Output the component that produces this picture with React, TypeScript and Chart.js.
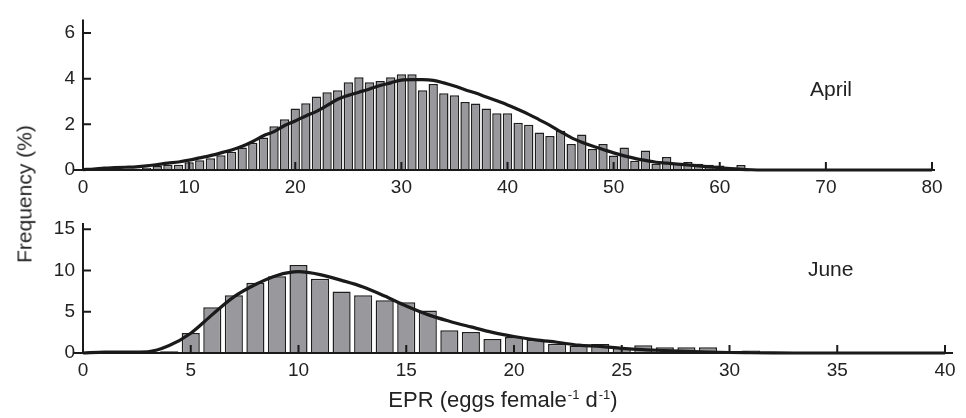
import React, { useEffect, useRef } from "react";
import { Chart, registerables } from "chart.js";

Chart.register(...registerables);

const FONT = "'Liberation Sans', Arial, Helvetica, sans-serif";

// ---- April panel ----
const aprilEPR = [
  0, 1, 2, 3, 4, 5, 6, 7, 8, 9,
  10, 11, 12, 13, 14, 15, 16, 17, 18, 19,
  20, 21, 22, 23, 24, 25, 26, 27, 28, 29,
  30, 31, 32, 33, 34, 35, 36, 37, 38, 39,
  40, 41, 42, 43, 44, 45, 46, 47, 48, 49,
  50, 51, 52, 53, 54, 55, 56, 57, 58, 59,
  60, 61, 62, 63, 64, 65, 66, 67, 68, 69,
  70, 71, 72, 73, 74, 75, 76, 77, 78, 79, 80,
];
const aprilBars = [
  0, 0, 0.02, 0.03, 0.03, 0.05, 0.1, 0.18, 0.23, 0.23,
  0.34, 0.43, 0.51, 0.65, 0.8, 0.99, 1.19, 1.42, 1.92, 2.22,
  2.7, 2.93, 3.22, 3.41, 3.5, 3.85, 4.07, 3.85, 3.9, 4.07,
  4.2, 4.2, 3.5, 3.77, 3.36, 3.28, 2.98, 2.91, 2.7, 2.49,
  2.49, 2.07, 1.98, 1.64, 1.49, 1.72, 1.14, 1.56, 0.92, 1.14,
  0.64, 0.99, 0.41, 0.85, 0.27, 0.57, 0.27, 0.35, 0.27, 0.23,
  0.2, 0.05, 0.22, 0, 0, 0, 0, 0, 0, 0,
  0, 0, 0, 0, 0, 0, 0, 0, 0, 0, 0,
];
const aprilCurve = [
  0.02, 0.04, 0.08, 0.1, 0.12, 0.14, 0.18, 0.24, 0.3, 0.35,
  0.43, 0.53, 0.63, 0.75, 0.88, 1.04, 1.25, 1.5, 1.68, 1.95,
  2.15, 2.37, 2.57, 2.83, 3.1, 3.27, 3.41, 3.55, 3.7, 3.82,
  3.94, 3.96, 3.96, 3.93, 3.82, 3.68, 3.52, 3.37, 3.2, 3.03,
  2.85, 2.65, 2.44, 2.2, 1.96, 1.68, 1.42, 1.22, 1.05, 0.9,
  0.75, 0.62, 0.51, 0.42, 0.34, 0.3, 0.26, 0.22, 0.18, 0.14,
  0.1, 0.06, 0.03, 0.01, 0, 0, 0, 0, 0, 0,
  0, 0, 0, 0, 0, 0, 0, 0, 0, 0, 0,
];
const aprilXTicks = [0, 10, 20, 30, 40, 50, 60, 70, 80];
const aprilYTicks = [0, 2, 4, 6];

// ---- June panel ----
const juneEPR = [
  0, 1, 2, 3, 4, 5, 6, 7, 8, 9,
  10, 11, 12, 13, 14, 15, 16, 17, 18, 19,
  20, 21, 22, 23, 24, 25, 26, 27, 28, 29,
  30, 31, 32, 33, 34, 35, 36, 37, 38, 39, 40,
];
const juneBars = [
  0, 0, 0, 0, 0.2, 2.43, 5.55, 7.0, 8.5, 9.3,
  10.65, 9.0, 7.45, 7.0, 6.4, 6.15, 5.14, 2.75, 2.55, 1.7,
  1.94, 1.62, 1.13, 0.9, 1.09, 0.6, 0.93, 0.69, 0.69, 0.69,
  0, 0.3, 0, 0, 0, 0, 0, 0, 0, 0, 0,
];
const juneCurve = [
  0, 0.1, 0.12, 0.15, 0.9, 2.4, 4.65, 6.8, 8.3, 9.4,
  9.85, 9.5, 8.8, 8.0, 6.9, 5.7, 4.65, 3.85, 3.16, 2.5,
  2.0, 1.6, 1.3, 0.95, 0.8, 0.57, 0.4, 0.3, 0.2, 0.12,
  0.06, 0.03, 0.01, 0, 0, 0, 0, 0, 0, 0, 0,
];
const juneXTicks = [0, 5, 10, 15, 20, 25, 30, 35, 40];
const juneYTicks = [0, 5, 10, 15];

type PanelCfg = {
  xs: number[];
  bars: number[];
  curve: number[];
  xTicks: number[];
  yTicks: number[];
  xMax: number;
  yMax: number;
  padRight: number;
  padTop: number;
  xHeight: number;
  barPct: number;
  rightExt: number;
  note: string;
  noteX: number;
  noteY: number;
};

function axesPlugin(cfg: PanelCfg) {
  return {
    id: "axesDraw",
    afterDatasetsDraw(chart: any) {
      const { ctx, chartArea: a, scales } = chart;
      const x = scales.x;
      const y = scales.y;
      const y0 = y.getPixelForValue(0);
      const x0 = x.getPixelForValue(0);
      ctx.save();
      ctx.strokeStyle = "#1a1a1a";
      ctx.lineWidth = 2;
      ctx.beginPath();
      ctx.moveTo(a.left - 10, y0);
      ctx.lineTo(a.right + cfg.rightExt, y0);
      ctx.moveTo(x0, y0);
      ctx.lineTo(x0, a.top);
      cfg.xTicks.forEach((v) => {
        if (v === 0) return;
        const px = x.getPixelForValue(v);
        ctx.moveTo(px, y0);
        ctx.lineTo(px, y0 - 8);
      });
      cfg.yTicks.forEach((v) => {
        if (v === 0) return;
        const py = y.getPixelForValue(v);
        ctx.moveTo(x0, py);
        ctx.lineTo(x0 + 8, py);
      });
      ctx.stroke();
      ctx.fillStyle = "#222";
      ctx.font = `21px ${FONT}`;
      ctx.textAlign = "left";
      ctx.textBaseline = "alphabetic";
      ctx.fillText(cfg.note, x.getPixelForValue(cfg.noteX), y.getPixelForValue(cfg.noteY));
      ctx.restore();
    },
  };
}

function makeChart(canvas: HTMLCanvasElement, cfg: PanelCfg) {
  const tickFont = { family: FONT, size: 19 };
  return new Chart(canvas, {
    type: "bar",
    data: {
      datasets: [
        {
          type: "line",
          data: cfg.xs.map((x, i) => ({ x, y: cfg.curve[i] })),
          borderColor: "#1a1a1a",
          borderWidth: 3.2,
          pointRadius: 0,
          tension: 0.4,
          cubicInterpolationMode: "monotone",
          fill: false,
          order: 0,
          clip: false,
        } as any,
        {
          type: "bar",
          data: cfg.xs.map((x, i) => ({ x, y: cfg.bars[i] })),
          backgroundColor: "#98989d",
          borderColor: "#1e1e1e",
          borderWidth: 1.5,
          barPercentage: cfg.barPct,
          categoryPercentage: 1,
          order: 1,
        } as any,
      ],
    },
    options: {
      responsive: false,
      maintainAspectRatio: false,
      animation: false,
      layout: { padding: { left: 0, right: cfg.padRight, top: cfg.padTop, bottom: 0 } },
      plugins: {
        legend: { display: false },
        tooltip: { enabled: false },
        title: { display: false },
      },
      scales: {
        x: {
          type: "linear",
          min: 0,
          max: cfg.xMax,
          offset: false,
          grid: { display: false, drawTicks: false },
          border: { display: false },
          ticks: { font: tickFont, color: "#222", padding: 6, maxRotation: 0, autoSkip: false },
          afterBuildTicks: (s: any) => {
            s.ticks = cfg.xTicks.map((v) => ({ value: v }));
          },
          afterFit: (s: any) => {
            s.height = cfg.xHeight;
          },
        },
        y: {
          type: "linear",
          min: 0,
          max: cfg.yMax,
          grid: { display: false, drawTicks: false },
          border: { display: false },
          ticks: { font: tickFont, color: "#222", padding: 8 },
          afterBuildTicks: (s: any) => {
            s.ticks = cfg.yTicks.map((v) => ({ value: v }));
          },
          afterFit: (s: any) => {
            s.width = 83;
          },
        },
      },
    } as any,
    plugins: [axesPlugin(cfg)],
  });
}

export default function App() {
  const topRef = useRef<HTMLCanvasElement>(null);
  const botRef = useRef<HTMLCanvasElement>(null);

  useEffect(() => {
    const c1 = makeChart(topRef.current!, {
      xs: aprilEPR,
      bars: aprilBars,
      curve: aprilCurve,
      xTicks: aprilXTicks,
      yTicks: aprilYTicks,
      xMax: 80,
      yMax: 6.6,
      padRight: 34,
      padTop: 8,
      xHeight: 30,
      barPct: 0.88,
      rightExt: 3,
      note: "April",
      noteX: 68.5,
      noteY: 3.26,
    });
    const c2 = makeChart(botRef.current!, {
      xs: juneEPR,
      bars: juneBars,
      curve: juneCurve,
      xTicks: juneXTicks,
      yTicks: juneYTicks,
      xMax: 40,
      yMax: 15.75,
      padRight: 21,
      padTop: 23,
      xHeight: 65,
      barPct: 0.84,
      rightExt: 8,
      note: "June",
      noteX: 33.64,
      noteY: 9.33,
    });
    return () => {
      c1.destroy();
      c2.destroy();
    };
  }, []);

  const textStyle: React.CSSProperties = {
    position: "absolute",
    fontFamily: FONT,
    fontSize: 21,
    lineHeight: "21px",
    color: "#222",
    whiteSpace: "nowrap",
  };
  const supStyle: React.CSSProperties = { fontSize: 13, position: "relative", top: -8, marginLeft: 1 };

  return (
    <div style={{ position: "absolute", left: 0, top: 0, width: 966, height: 418, background: "#fff" }}>
      <canvas ref={topRef} width={966} height={200} style={{ position: "absolute", left: 0, top: 0 }} />
      <canvas ref={botRef} width={966} height={218} style={{ position: "absolute", left: 0, top: 200 }} />
      <div style={{ ...textStyle, left: 24, top: 194, transform: "translate(-50%, -50%) rotate(-90deg)" }}>
        Frequency (%)
      </div>
      <div style={{ ...textStyle, fontSize: 22, lineHeight: "22px", left: 503, top: 389, transform: "translateX(-50%)" }}>
        EPR (eggs female<span style={supStyle}>-1</span> d<span style={supStyle}>-1</span>)
      </div>
    </div>
  );
}
